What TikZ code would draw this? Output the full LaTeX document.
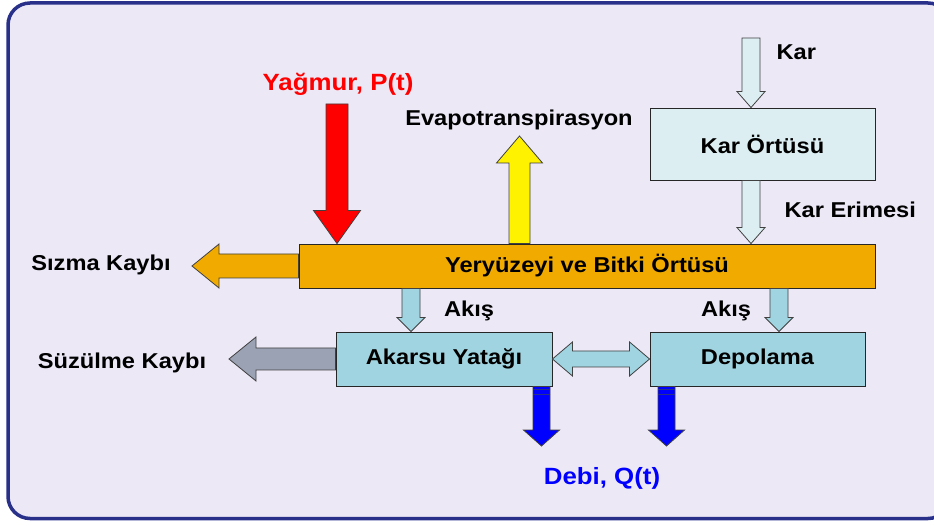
\documentclass[tikz,border=0pt]{standalone}
\usepackage{fontspec}
\setmainfont{Liberation Sans}[FakeStretch=1.1]
\usepackage{xcolor}
\usepackage{tikz}
\usetikzlibrary{positioning,calc}
\definecolor{framenavy}{RGB}{40,48,138}
\definecolor{bglav}{RGB}{236,232,246}
\definecolor{soilorange}{RGB}{240,170,0}
\definecolor{snowcyan}{RGB}{220,238,242}
\definecolor{watercyan}{RGB}{160,212,224}
\definecolor{lossgray}{RGB}{154,162,180}
\definecolor{flowblue}{RGB}{0,0,255}

% block arrow: [style]{from}{to}{half shaft}{half head}{head length}
\newcommand\blockarrow[6][]{%
  \coordinate (ba-base) at ($(#3)!#6!(#2)$);
  \draw[#1] ($(#2)!#4!90:(#3)$) -- ($(ba-base)!#4!90:(#3)$) -- ($(ba-base)!#5!90:(#3)$)
    -- (#3) -- ($(ba-base)!#5!-90:(#3)$) -- ($(ba-base)!#4!-90:(#3)$) -- ($(#2)!#4!-90:(#3)$) -- cycle;
}
% two-way block arrow: [style]{end a}{end b}{half shaft}{half head}{head length}
\newcommand\twowayarrow[6][]{%
  \coordinate (tw-a) at ($(#2)!#6!(#3)$);
  \coordinate (tw-b) at ($(#3)!#6!(#2)$);
  \draw[#1] (#2) -- ($(tw-a)!#5!90:(#3)$) -- ($(tw-a)!#4!90:(#3)$) -- ($(tw-b)!#4!90:(#3)$)
    -- ($(tw-b)!#5!90:(#3)$) -- (#3) -- ($(tw-b)!#5!-90:(#3)$) -- ($(tw-b)!#4!-90:(#3)$)
    -- ($(tw-a)!#4!-90:(#3)$) -- ($(tw-a)!#5!-90:(#3)$) -- cycle;
}

\begin{document}
\begin{tikzpicture}[x=1pt, y=1pt,
  font=\fontsize{21.5}{24}\selectfont\bfseries,
  box/.style={draw=black!85, line width=0.9pt, inner sep=0pt},
  outline/.style={draw=black!75, line width=0.8pt, line join=miter},
  biglbl/.style={font=\fontsize{23.5}{26}\selectfont\bfseries}]
  \useasboundingbox (0,0) rectangle (934,525);
  % rounded frame, runs off the right edge
  \draw[framenavy, line width=3.5pt, fill=bglav, rounded corners=22pt] (8,6.5) rectangle (950,522);

  % storages
  \node[box, fill=soilorange, minimum width=576pt, minimum height=44pt] (ground) at (587,259) {Yeryüzeyi ve Bitki Örtüsü};
  \node[box, fill=snowcyan, minimum width=225pt, minimum height=72pt] (snowpack) at (762.5,381) {Kar Örtüsü};
  \node[box, fill=watercyan, minimum width=216pt, minimum height=54pt] (channel) at (444,166) {Akarsu Yatağı};
  \node[box, fill=watercyan, minimum width=215pt, minimum height=54pt] (storage) at (757.5,166) {Depolama};

  % inputs from above
  \coordinate (raintop) at (337,421);
  \coordinate (rainend) at (raintop |- ground.north);
  \blockarrow[outline, fill=red]{raintop}{rainend}{11pt}{23.5pt}{33pt}
  \coordinate (evaptip) at (519.5,389);
  \coordinate (evapfoot) at (evaptip |- ground.north);
  \blockarrow[outline, fill=yellow]{evapfoot}{evaptip}{10.5pt}{23pt}{27pt}
  \coordinate (snowtop) at (751,487);
  \coordinate (snowend) at (snowtop |- snowpack.north);
  \blockarrow[outline, fill=snowcyan]{snowtop}{snowend}{9pt}{14pt}{16pt}
  \coordinate (meltstart) at (snowtop |- snowpack.south);
  \coordinate (meltend) at (snowtop |- ground.north);
  \blockarrow[outline, fill=snowcyan]{meltstart}{meltend}{9pt}{14pt}{16pt}

  % losses to the left
  \coordinate (seeptip) at (192,259);
  \blockarrow[outline, fill=soilorange]{ground.west}{seeptip}{12pt}{22pt}{27pt}
  \coordinate (perctip) at (229,166);
  \blockarrow[outline, fill=lossgray]{channel.west}{perctip}{11pt}{22pt}{27pt}

  % runoff down, exchange, outflow
  \foreach \fx/\target in {411/channel, 779/storage}{
    \coordinate (flowtop) at (ground.south -| \fx,0);
    \coordinate (flowend) at (\target.north -| \fx,0);
    \blockarrow[outline, fill=watercyan]{flowtop}{flowend}{9pt}{14pt}{14pt}
  }
  \twowayarrow[outline, fill=watercyan]{channel.east}{storage.west}{8pt}{17pt}{20pt}
  \foreach \qx/\source in {541.5/channel, 666.5/storage}{
    \coordinate (qtop) at (\source.south -| \qx,0);
    \coordinate (qtip) at (\qx,79);
    \blockarrow[outline, fill=flowblue]{qtop}{qtip}{8.5pt}{18pt}{16pt}
    \draw[framenavy, line width=1.6pt] ($(qtop)+(-8.5,-3)$) -- ($(qtop)+(8.5,-3)$)
      ($(qtop)+(-8.5,-8)$) -- ($(qtop)+(8.5,-8)$);
  }

  % labels
  \node[biglbl, text=red] (rainlbl) at (338,441) {Yağmur, P(t)};
  \node (evaplbl) at (519,405) {Evapotranspirasyon};
  \node[anchor=west] (snowlbl) at (773,473) {Kar};
  \node[anchor=west] (meltlbl) at (781,315) {Kar Erimesi};
  \node (seeplbl) at (101,260) {Sızma Kaybı};
  \node (percllbl) at (122,162) {Süzülme Kaybı};
  \node (flowlbla) at (469,214) {Akış};
  \node (flowlblb) at (726,214) {Akış};
  \node[biglbl, text=flowblue] (qlbl) at (602,47) {Debi, Q(t)};
\end{tikzpicture}
\end{document}
